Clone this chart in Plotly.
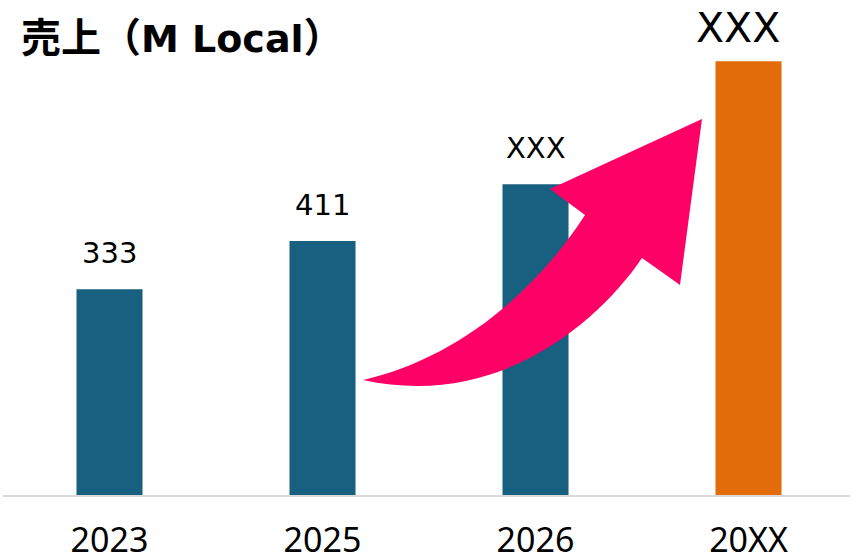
import plotly.graph_objects as go

categories = ["2023", "2025", "2026", "20XX"]
values = [333, 411, 503, 702]
value_labels = ["333", "411", "XXX", "XXX"]
bar_colors = ["#17607F", "#17607F", "#17607F", "#E36C0A"]
title_cjk_a = "売上（"
title_latin = "M Local"
title_cjk_b = "）"

W, H = 850, 556
ML, MR, MT, MB = 3, 0, 40, 61
PW, PH = W - ML - MR, H - MT - MB
BASE_Y = H - MB
SCALE = 0.618  # px per unit
YMAX = PH / SCALE
SPACING = 213
XMAX = -0.5 + PW / SPACING


def px2paper(X, Y):
    return (X - ML) / PW, (BASE_Y - Y) / PH


def pt(X, Y):
    a, b = px2paper(X, Y)
    return f"{a:.5f},{b:.5f}"


fig = go.Figure()
fig.add_trace(go.Bar(
    x=list(range(len(categories))), y=values,
    marker=dict(color=bar_colors, line=dict(width=0)),
    width=0.31, hoverinfo="skip",
))

# data labels
for i, (v, lab) in enumerate(zip(values, value_labels)):
    last = i == len(values) - 1
    fig.add_annotation(
        x=i, y=v, xref="x", yref="y", text=lab, showarrow=False,
        yanchor="bottom", xanchor="center",
        yshift=7 if last else 17, xshift=-11 if last else 0,
        font=dict(family="DejaVu Sans", size=41 if last else 29, color="#000000"),
    )

# title
tx, ty = px2paper(19, 35)
title_html = ("<b>" + title_cjk_a
              + "<span style=\"font-family:'DejaVu Sans';font-size:38px\">" + title_latin + "</span>"
              + title_cjk_b + "</b>")
fig.add_annotation(
    x=tx, y=ty, xref="paper", yref="paper", text=title_html,
    showarrow=False, xanchor="left", yanchor="middle",
    font=dict(family="Noto Sans CJK JP", size=40, color="#000000"),
)

arrow_path = (
    f"M {pt(363,380)} C {pt(450,360)} {pt(530,300)} {pt(585,215)} "
    f"L {pt(550,189)} L {pt(702,119)} L {pt(680,285)} L {pt(642,258)} "
    f"C {pt(600,320)} {pt(500,410)} {pt(363,380)} Z"
)
fig.add_shape(type="path", path=arrow_path, xref="paper", yref="paper",
              fillcolor="#FF0066", line=dict(width=0), layer="above")

fig.update_layout(
    width=W, height=H,
    margin=dict(l=ML, r=MR, t=MT, b=MB, autoexpand=False),
    plot_bgcolor="white", paper_bgcolor="white",
    showlegend=False,
    xaxis=dict(
        range=[-0.5, XMAX], tickmode="array",
        tickvals=list(range(len(categories))), ticktext=categories,
        showline=True, linecolor="#D9D9D9", linewidth=2,
        showgrid=False, zeroline=False, automargin=False,
        ticks="outside", ticklen=14, tickcolor="rgba(0,0,0,0)",
        tickfont=dict(family="Noto Sans", size=34, color="#000000"),
        fixedrange=True,
    ),
    yaxis=dict(range=[0, YMAX], visible=False, showgrid=False, zeroline=False,
               automargin=False),
)

fig.write_html("out.html", config={"displayModeBar": False},
               post_script="document.body.style.margin='0';document.body.style.overflow='hidden';")
